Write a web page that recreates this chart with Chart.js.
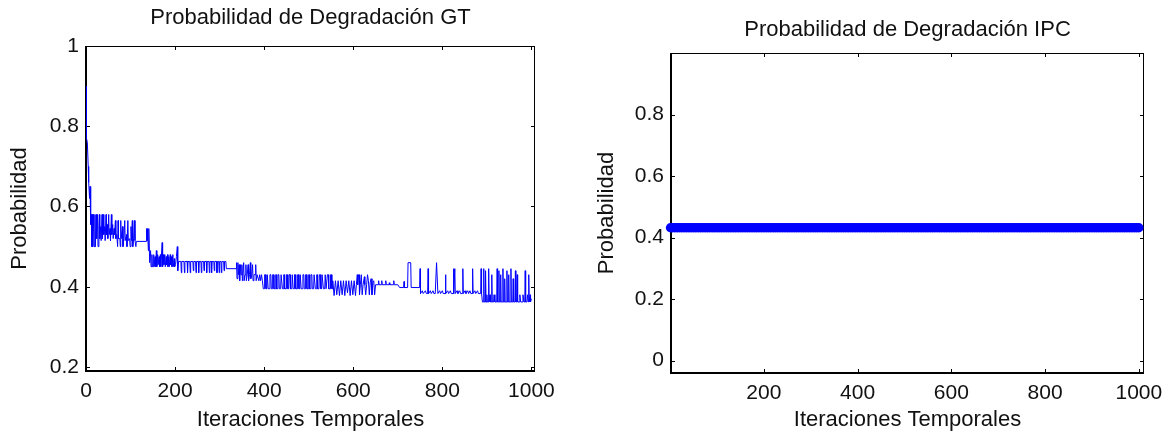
<!DOCTYPE html>
<html>
<head>
<meta charset="utf-8">
<script src="https://cdn.jsdelivr.net/npm/chart.js@4.4.0/dist/chart.umd.min.js"></script>
<style>
  body { margin: 0; background: #fff; }
  #wrap { position: relative; width: 1165px; height: 435px; }
  canvas { position: absolute; top: 0; }
  #gtChart { left: 0; }
  #ipcChart { left: 580px; }
</style>
</head>
<body>
<div id="wrap">
  <canvas id="gtChart" width="580" height="435"></canvas>
  <canvas id="ipcChart" width="585" height="435"></canvas>
</div>
<script>
// GT: [iteracion, probabilidad]
const gtSeries = [
  [0,0.90],[1,0.77],[3,0.76],[5,0.70],[6,0.66],[8,0.62],[9,0.65],[10,0.60],[11,0.555],[12,0.58],
  [13,0.50],[14,0.58],[15,0.50],[16,0.58],[17,0.55],[18,0.50],[20,0.58],[21,0.50],[23,0.58],[24,0.52],
  [26,0.58],[27,0.50],[29,0.55],[30,0.58],[31,0.52],
  [33,0.55],[34,0.515],[36,0.58],[37,0.52],[39,0.58],[40,0.53],[42,0.55],[43,0.515],[45,0.58],[46,0.53],
  [48,0.555],[49,0.52],[51,0.58],[52,0.53],[54,0.545],[55,0.515],[57,0.58],[58,0.53],[60,0.555],[61,0.52],
  [63,0.545],[64,0.53],
  [66,0.565],[67,0.52],[69,0.53],[71,0.50],[72,0.565],[73,0.52],[76,0.52],[77,0.50],[78,0.565],[79,0.52],
  [82,0.55],[83,0.50],[85,0.52],[87,0.565],[88,0.515],[91,0.53],[92,0.50],[94,0.565],[95,0.515],[98,0.52],
  [99,0.50],[101,0.55],[102,0.515],[104,0.565],[105,0.50],[107,0.52],[109,0.565],[110,0.515],[112,0.50],[113,0.513],
  [135,0.513],
  [136,0.545],[137,0.515],[138,0.545],[140,0.49],[141,0.545],[143,0.46],[145,0.49],[146,0.45],[148,0.48],[149,0.45],
  [151,0.45],[152,0.48],[153,0.45],[155,0.475],[156,0.45],[158,0.49],[159,0.45],[161,0.48],[162,0.455],[164,0.475],
  [165,0.45],[167,0.48],[168,0.45],[171,0.51],[172,0.45],[174,0.48],[175,0.455],[177,0.48],[178,0.45],[180,0.475],
  [181,0.455],[183,0.48],[184,0.45],[186,0.475],[187,0.45],[189,0.48],[190,0.455],[192,0.475],[193,0.45],[195,0.48],
  [196,0.45],[198,0.47],[199,0.45],[201,0.455],
  [203,0.475],[205,0.50],[206,0.44],[208,0.463],
  [213,0.463],[214,0.435],[215,0.463],[220,0.463],[221,0.435],[222,0.463],[227,0.463],[228,0.435],[229,0.463],[233,0.463],
  [234,0.435],[235,0.463],[240,0.463],[241,0.44],[242,0.463],[246,0.463],[247,0.435],[248,0.463],[252,0.463],[253,0.435],
  [254,0.463],[258,0.463],[259,0.435],[260,0.463],[264,0.463],[265,0.44],[266,0.463],[270,0.463],[271,0.435],[272,0.463],
  [276,0.463],[277,0.435],[278,0.463],[281,0.463],[282,0.435],[283,0.463],[287,0.463],[288,0.44],[289,0.463],[293,0.463],
  [294,0.435],[295,0.463],[298,0.463],[299,0.435],[300,0.463],[303,0.463],[304,0.435],[305,0.463],[309,0.463],[310,0.44],
  [311,0.463],[314,0.463],
  [315,0.445],[337,0.445],
  [338,0.46],[339,0.42],[341,0.46],[342,0.43],[343,0.43],[344,0.455],[345,0.415],[347,0.455],[348,0.43],[350,0.455],
  [351,0.415],[352,0.43],[354,0.46],[355,0.415],[357,0.43],[359,0.455],[360,0.415],[362,0.43],[364,0.455],[365,0.415],
  [367,0.43],[369,0.46],[370,0.42],[372,0.43],[374,0.455],[375,0.415],[377,0.43],[380,0.43],[381,0.455],[382,0.415],
  [384,0.43],[386,0.43],[388,0.415],[390,0.43],[392,0.415],[394,0.43],[396,0.415],
  [398,0.395],[400,0.395],[401,0.43],[403,0.43],[404,0.395],[406,0.395],[407,0.43],[408,0.43],[409,0.395],[412,0.395],
  [413,0.43],[415,0.43],[416,0.395],[418,0.395],[419,0.43],[421,0.43],[422,0.395],[425,0.395],[426,0.43],[427,0.43],
  [428,0.395],[430,0.395],[431,0.43],[433,0.43],[434,0.395],[437,0.395],[438,0.43],[440,0.43],[441,0.395],[443,0.395],
  [444,0.43],[445,0.43],[446,0.395],[449,0.395],[450,0.43],[452,0.43],[453,0.395],[455,0.395],[456,0.43],[458,0.43],
  [459,0.395],[462,0.395],[463,0.43],[464,0.43],[465,0.395],[467,0.395],[468,0.43],[470,0.43],[471,0.395],[474,0.395],
  [475,0.43],[477,0.43],[478,0.395],[480,0.395],[481,0.43],[482,0.43],[483,0.395],[486,0.395],[487,0.43],[489,0.43],
  [490,0.395],[492,0.395],[493,0.43],[495,0.43],[496,0.395],[499,0.395],[500,0.43],[501,0.43],[502,0.395],[504,0.395],
  [505,0.43],[507,0.43],[508,0.395],[511,0.395],[512,0.43],[514,0.43],[515,0.395],[517,0.395],[518,0.43],[519,0.43],
  [520,0.395],[523,0.395],[524,0.43],[526,0.43],[527,0.395],[529,0.395],[530,0.43],[532,0.43],[533,0.395],[536,0.395],
  [537,0.43],[538,0.43],[539,0.395],[541,0.395],[542,0.43],[544,0.43],[545,0.395],[548,0.395],[549,0.43],[551,0.43],
  [552,0.395],[553,0.395],
  [554,0.415],[557,0.378],[560,0.415],[563,0.38],[566,0.415],[569,0.378],[572,0.415],[575,0.38],[578,0.415],[581,0.378],
  [584,0.415],[587,0.385],[590,0.415],[593,0.378],[596,0.415],[599,0.38],[602,0.415],[605,0.378],
  [607,0.405],[609,0.43],[610,0.405],[612,0.43],[613,0.43],[614,0.38],[616,0.405],[618,0.43],[620,0.38],[622,0.405],
  [625,0.425],[626,0.405],[628,0.38],[630,0.405],[632,0.43],[634,0.415],[636,0.38],[638,0.41],[640,0.42],[642,0.38],
  [644,0.41],[646,0.415],[648,0.38],[650,0.405],
  [656,0.405],[657,0.415],[658,0.405],[663,0.405],[664,0.415],[665,0.405],[672,0.405],[673,0.415],[674,0.405],[680,0.405],
  [681,0.41],[682,0.405],[690,0.405],[691,0.415],[692,0.405],[700,0.405],
  [704,0.398],[713,0.398],[714,0.413],[715,0.398],[722,0.398],[723,0.46],[729,0.46],[730,0.398],[749,0.398],
  [750,0.445],[751,0.383],[755,0.39],[757,0.383],[762,0.39],[764,0.383],[767,0.383],[768,0.445],[769,0.383],[773,0.39],
  [775,0.383],[779,0.39],[781,0.383],[784,0.383],[787,0.46],[790,0.383],[794,0.39],[796,0.383],[800,0.39],[802,0.383],
  [806,0.383],[807,0.43],[808,0.383],[812,0.39],[814,0.383],[818,0.39],[820,0.383],[824,0.383],[825,0.445],[826,0.383],
  [828,0.445],[829,0.383],[833,0.39],[835,0.383],[839,0.39],[841,0.383],[845,0.383],[846,0.445],[847,0.383],[851,0.39],
  [853,0.383],[857,0.39],[859,0.383],[862,0.39],[864,0.383],[867,0.383],[868,0.445],[869,0.383],[873,0.39],[875,0.383],
  [879,0.39],[881,0.383],[886,0.383],[887,0.445],[888,0.383],[890,0.362],
  [892,0.362],[893,0.445],[894,0.362],[896,0.362],[897,0.44],[898,0.362],[900,0.38],[901,0.362],[903,0.362],[904,0.445],
  [905,0.362],[907,0.38],[908,0.362],[910,0.362],[911,0.43],[912,0.362],[915,0.362],[916,0.38],[918,0.362],[922,0.362],
  [923,0.445],[924,0.362],[926,0.362],[927,0.44],[928,0.362],[930,0.362],[931,0.43],[932,0.362],[935,0.362],[936,0.445],
  [937,0.362],[939,0.362],[940,0.42],[941,0.362],[944,0.362],[945,0.44],[946,0.362],[948,0.362],[949,0.43],[950,0.362],
  [953,0.362],[954,0.445],[955,0.362],[958,0.362],[959,0.42],[960,0.362],[963,0.362],[964,0.44],[965,0.362],[967,0.362],
  [968,0.43],[969,0.362],[973,0.362],[974,0.38],[976,0.362],[980,0.362],[981,0.38],[983,0.362],[985,0.362],[986,0.44],
  [987,0.362],[990,0.362],[991,0.38],[993,0.362],[994,0.43],[995,0.362],[997,0.38],[998,0.362],[1000,0.37]
];

// IPC: flat at ~0.432 for every iteration (dense markers)
const ipcIter = [
  1, 5, 10, 15, 20, 25, 30, 35, 40, 45, 50, 55, 60, 65, 70, 75, 80, 85, 90, 95,
  100, 105, 110, 115, 120, 125, 130, 135, 140, 145, 150, 155, 160, 165, 170, 175, 180, 185, 190, 195,
  200, 205, 210, 215, 220, 225, 230, 235, 240, 245, 250, 255, 260, 265, 270, 275, 280, 285, 290, 295,
  300, 305, 310, 315, 320, 325, 330, 335, 340, 345, 350, 355, 360, 365, 370, 375, 380, 385, 390, 395,
  400, 405, 410, 415, 420, 425, 430, 435, 440, 445, 450, 455, 460, 465, 470, 475, 480, 485, 490, 495,
  500, 505, 510, 515, 520, 525, 530, 535, 540, 545, 550, 555, 560, 565, 570, 575, 580, 585, 590, 595,
  600, 605, 610, 615, 620, 625, 630, 635, 640, 645, 650, 655, 660, 665, 670, 675, 680, 685, 690, 695,
  700, 705, 710, 715, 720, 725, 730, 735, 740, 745, 750, 755, 760, 765, 770, 775, 780, 785, 790, 795,
  800, 805, 810, 815, 820, 825, 830, 835, 840, 845, 850, 855, 860, 865, 870, 875, 880, 885, 890, 895,
  900, 905, 910, 915, 920, 925, 930, 935, 940, 945, 950, 955, 960, 965, 970, 975, 980, 985, 990, 995,
  1000
];
const ipcProb = [
  0.432, 0.432, 0.432, 0.432, 0.432, 0.432, 0.432, 0.432, 0.432, 0.432, 0.432, 0.432, 0.432, 0.432, 0.432, 0.432, 0.432, 0.432, 0.432, 0.432,
  0.432, 0.432, 0.432, 0.432, 0.432, 0.432, 0.432, 0.432, 0.432, 0.432, 0.432, 0.432, 0.432, 0.432, 0.432, 0.432, 0.432, 0.432, 0.432, 0.432,
  0.432, 0.432, 0.432, 0.432, 0.432, 0.432, 0.432, 0.432, 0.432, 0.432, 0.432, 0.432, 0.432, 0.432, 0.432, 0.432, 0.432, 0.432, 0.432, 0.432,
  0.432, 0.432, 0.432, 0.432, 0.432, 0.432, 0.432, 0.432, 0.432, 0.432, 0.432, 0.432, 0.432, 0.432, 0.432, 0.432, 0.432, 0.432, 0.432, 0.432,
  0.432, 0.432, 0.432, 0.432, 0.432, 0.432, 0.432, 0.432, 0.432, 0.432, 0.432, 0.432, 0.432, 0.432, 0.432, 0.432, 0.432, 0.432, 0.432, 0.432,
  0.432, 0.432, 0.432, 0.432, 0.432, 0.432, 0.432, 0.432, 0.432, 0.432, 0.432, 0.432, 0.432, 0.432, 0.432, 0.432, 0.432, 0.432, 0.432, 0.432,
  0.432, 0.432, 0.432, 0.432, 0.432, 0.432, 0.432, 0.432, 0.432, 0.432, 0.432, 0.432, 0.432, 0.432, 0.432, 0.432, 0.432, 0.432, 0.432, 0.432,
  0.432, 0.432, 0.432, 0.432, 0.432, 0.432, 0.432, 0.432, 0.432, 0.432, 0.432, 0.432, 0.432, 0.432, 0.432, 0.432, 0.432, 0.432, 0.432, 0.432,
  0.432, 0.432, 0.432, 0.432, 0.432, 0.432, 0.432, 0.432, 0.432, 0.432, 0.432, 0.432, 0.432, 0.432, 0.432, 0.432, 0.432, 0.432, 0.432, 0.432,
  0.432, 0.432, 0.432, 0.432, 0.432, 0.432, 0.432, 0.432, 0.432, 0.432, 0.432, 0.432, 0.432, 0.432, 0.432, 0.432, 0.432, 0.432, 0.432, 0.432,
  0.432
];

const xTicksGT = [0, 200, 400, 600, 800, 1000];
const yTicksGT = [0.2, 0.4, 0.6, 0.8, 1];
const xTicksIPC = [200, 400, 600, 800, 1000];
const yTicksIPC = [0, 0.2, 0.4, 0.6, 0.8];

const FONT = '"Liberation Sans", Arial, sans-serif';
const INK = '#111';

// matlab style box: frame on four sides + inward ticks (data goes on top)
const boxPlugin = {
  id: 'box',
  beforeDatasetsDraw(chart) {
    const {ctx, chartArea: a, scales} = chart;
    ctx.save();
    ctx.strokeStyle = '#000';
    ctx.lineWidth = 1;
    ctx.beginPath();
    scales.x.ticks.forEach((t) => {
      const px = Math.round(scales.x.getPixelForValue(t.value)) + 0.5;
      ctx.moveTo(px, a.bottom); ctx.lineTo(px, a.bottom - 4);
      ctx.moveTo(px, a.top); ctx.lineTo(px, a.top + 4);
    });
    scales.y.ticks.forEach((t) => {
      const py = Math.round(scales.y.getPixelForValue(t.value)) + 0.5;
      ctx.moveTo(a.left, py); ctx.lineTo(a.left + 4, py);
      ctx.moveTo(a.right, py); ctx.lineTo(a.right - 4, py);
    });
    // top + right
    ctx.moveTo(a.left, a.top + 0.5); ctx.lineTo(a.right, a.top + 0.5);
    ctx.moveTo(a.right - 0.5, a.top); ctx.lineTo(a.right - 0.5, a.bottom);
    ctx.stroke();
    // left + bottom a bit heavier
    ctx.lineWidth = 2;
    ctx.beginPath();
    ctx.moveTo(a.left, a.top); ctx.lineTo(a.left, a.bottom);
    ctx.lineTo(a.right, a.bottom);
    ctx.stroke();
    ctx.restore();
  }
};

function makeChart(id, cfg) {
  const ctx = document.getElementById(id);
  const tickFont = {family: FONT, size: 21, lineHeight: 1.2};
  const labelFont = {family: FONT, size: 22, lineHeight: 1.2};

  return new Chart(ctx, {
    type: 'line',
    data: {datasets: [cfg.dataset]},
    options: {
      responsive: false,
      animation: false,
      layout: {padding: {left: 0, right: cfg.padRight, top: 0, bottom: 0}},
      plugins: {
        legend: {display: false},
        tooltip: {enabled: false},
        title: {
          display: true,
          text: cfg.title,
          fullSize: false,
          color: INK,
          font: {family: FONT, size: 22, weight: 'normal', lineHeight: 1.2},
          padding: cfg.titlePad
        }
      },
      scales: {
        x: {
          type: 'linear',
          min: cfg.xMin,
          max: cfg.xMax,
          grid: {display: false, drawTicks: false},
          border: {display: false},
          afterBuildTicks: (s) => { s.ticks = cfg.xTicks.map((v) => ({value: v})); },
          afterFit: (s) => { s.height = cfg.xH; s.paddingLeft = 0; s.paddingRight = 0; },
          ticks: {autoSkip: false, maxRotation: 0, padding: 8, color: INK, font: tickFont,
                  callback: (v) => String(v)},
          title: {display: true, text: 'Iteraciones Temporales', color: INK, font: labelFont,
                  padding: {top: 0, bottom: 2}}
        },
        y: {
          type: 'linear',
          min: cfg.yMin,
          max: cfg.yMax,
          grid: {display: false, drawTicks: false},
          border: {display: false},
          afterBuildTicks: (s) => { s.ticks = cfg.yTicks.map((v) => ({value: v})); },
          afterFit: (s) => { s.width = cfg.yW; },
          ticks: {autoSkip: false, padding: 7, color: INK, font: tickFont,
                  callback: (v) => String(v)},
          title: {display: true, text: 'Probabilidad', color: INK, font: labelFont,
                  padding: {top: cfg.yTitlePad, bottom: 0}}
        }
      }
    },
    plugins: [boxPlugin]
  });
}

async function mainEvent() {
  makeChart('gtChart', {
    title: 'Probabilidad de Degradación GT',
    titlePad: {top: 5, bottom: 14.6},
    padRight: 45,
    xMin: 0, xMax: 1008, xTicks: xTicksGT, xH: 64,
    yMin: 0.19, yMax: 1, yTicks: yTicksGT, yW: 86, yTitlePad: 7,
    dataset: {
      data: gtSeries,
      borderColor: '#0000ff',
      borderWidth: 1,
      pointRadius: 0,
      tension: 0
    }
  });

  makeChart('ipcChart', {
    title: 'Probabilidad de Degradación IPC',
    titlePad: {top: 17, bottom: 9.6},
    padRight: 21,
    xMin: 2, xMax: 1011, xTicks: xTicksIPC, xH: 62,
    yMin: -0.04, yMax: 1, yTicks: yTicksIPC, yW: 91, yTitlePad: 14,
    dataset: {
      data: ipcIter.map((it, i) => ({x: it, y: ipcProb[i]})),
      showLine: false,
      pointRadius: 4.7,
      pointBorderWidth: 0,
      pointBackgroundColor: '#0000ff',
      clip: false
    }
  });
}

document.addEventListener('DOMContentLoaded', async () => mainEvent());
</script>
</body>
</html>
